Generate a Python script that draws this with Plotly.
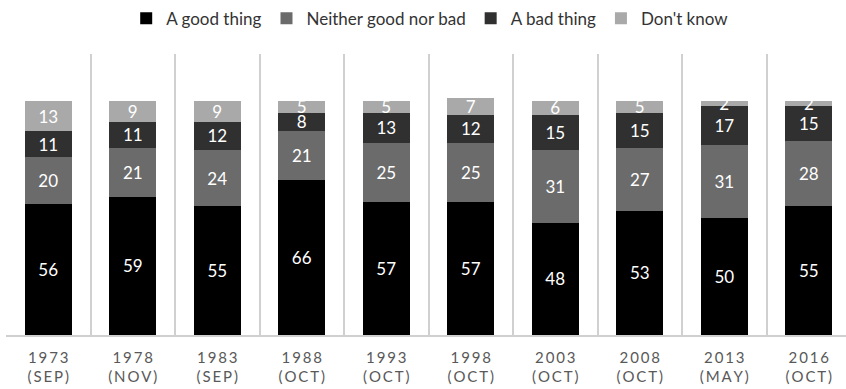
import plotly.graph_objects as go

categories = ["1973<br>(SEP)", "1978<br>(NOV)", "1983<br>(SEP)", "1988<br>(OCT)", "1993<br>(OCT)",
              "1998<br>(OCT)", "2003<br>(OCT)", "2008<br>(OCT)", "2013<br>(MAY)", "2016<br>(OCT)"]
good = [56, 59, 55, 66, 57, 57, 48, 53, 50, 55]
neither = [20, 21, 24, 21, 25, 25, 31, 27, 31, 28]
bad = [11, 11, 12, 8, 13, 12, 15, 15, 17, 15]
dont_know = [13, 9, 9, 5, 5, 7, 6, 5, 2, 2]

series = [
    ("A good thing", good, "#000000"),
    ("Neither good nor bad", neither, "#6b6b6b"),
    ("A bad thing", bad, "#303030"),
    ("Don't know", dont_know, "#a9a9a9"),
]

def spaced(label):
    # visual letter spacing for tick labels
    return "<br>".join("\u2009".join(part) for part in label.split("<br>"))

xlabels = [spaced(c) for c in categories]

fig = go.Figure()
for name, vals, color in series:
    fig.add_trace(go.Bar(
        name=name, x=xlabels, y=vals,
        marker=dict(color=color, line=dict(width=0)),
        text=[str(v) for v in vals],
        textposition="inside", insidetextanchor="middle", textangle=0,
        textfont=dict(color="white", size=17, family="Lato"),
    ))

fig.update_layout(
    barmode="stack",
    bargap=0.444,
    width=846, height=389,
    margin=dict(l=6, r=0, t=54, b=54),
    paper_bgcolor="white", plot_bgcolor="white",
    font=dict(family="Lato", color="#404040"),
    uniformtext=dict(minsize=17, mode="show"),
    legend=dict(orientation="h", x=0.505, xanchor="center", yref="container", y=0.998, yanchor="top",
                font=dict(size=17, color="#333333"), traceorder="normal", itemwidth=30),
    showlegend=True,
)
fig.update_xaxes(type="category", tickson="boundaries", showgrid=True, gridcolor="#d0d0d0", gridwidth=1.5,
                 range=[-0.5, 9.44],
                 showline=True, linecolor="#d0d0d0", linewidth=1.5, ticks="", ticklabelstandoff=8,
                 tickfont=dict(size=15, color="#595959", family="Lato"))
fig.update_yaxes(range=[0, 120], showgrid=False, showticklabels=False, zeroline=False, showline=False)

fig.write_html("out.html")
